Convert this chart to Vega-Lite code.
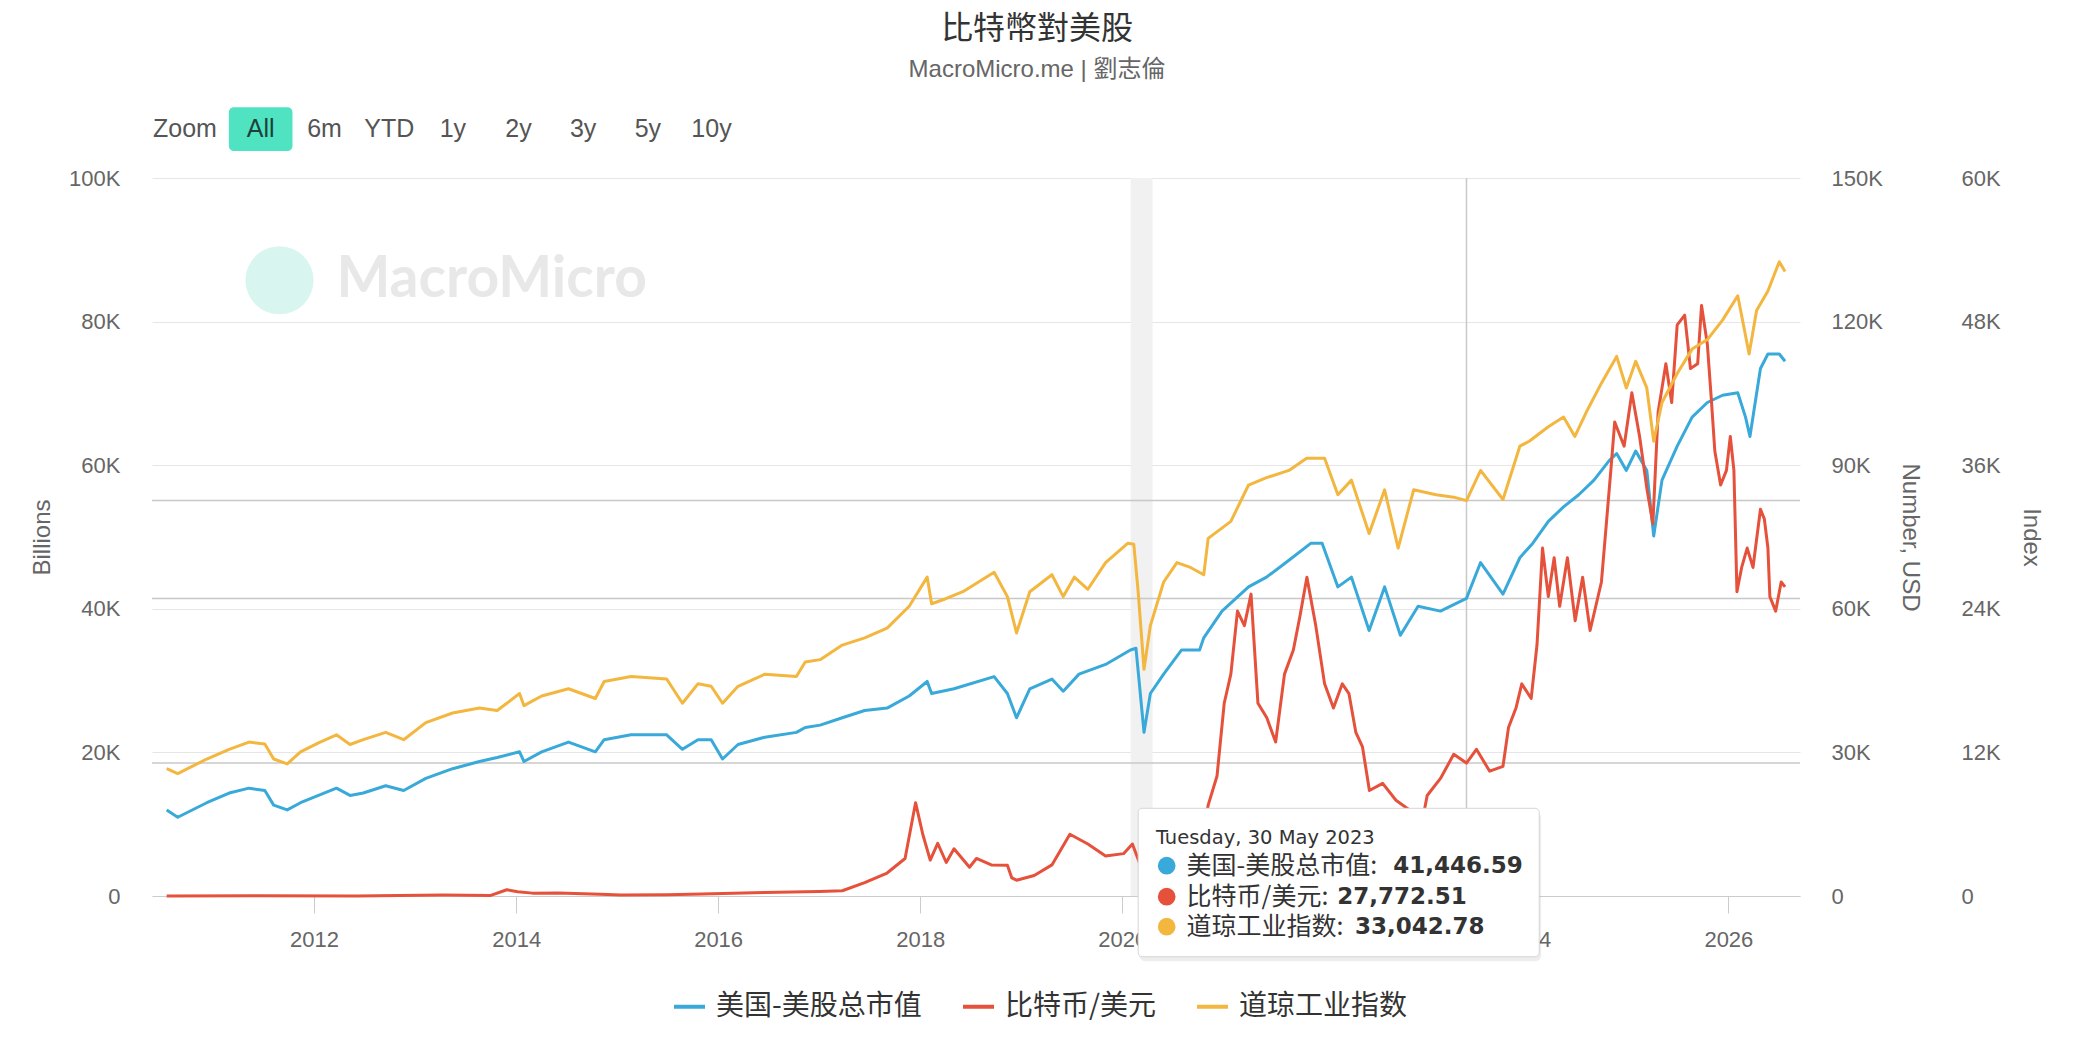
{
  "$schema": "https://vega.github.io/schema/vega-lite/v6.json",
  "width": 1648,
  "height": 718,
  "autosize": {"type": "none"},
  "padding": {"left": 152, "top": 178, "right": 274, "bottom": 168},
  "background": "#ffffff",
  "title": {
    "text": "比特幣對美股",
    "subtitle": "MacroMicro.me | 劉志倫",
    "anchor": "middle",
    "dx": 61,
    "offset": 24.5,
    "font": "Noto Sans CJK TC",
    "fontSize": 32,
    "fontWeight": "normal",
    "color": "#333333",
    "subtitleFont": "Liberation Sans, Noto Sans CJK TC",
    "subtitleFontSize": 24,
    "subtitleColor": "#666666",
    "subtitlePadding": 12
  },
  "datasets": {
    "mktcap": [
      {"date": "2010-07-17", "value": 11990},
      {"date": "2010-08-26", "value": 10970},
      {"date": "2010-12-09", "value": 12990},
      {"date": "2011-02-28", "value": 14340},
      {"date": "2011-05-11", "value": 15020},
      {"date": "2011-07-07", "value": 14690},
      {"date": "2011-08-08", "value": 12660},
      {"date": "2011-09-26", "value": 11990},
      {"date": "2011-11-13", "value": 12990},
      {"date": "2012-01-17", "value": 14010},
      {"date": "2012-03-22", "value": 15020},
      {"date": "2012-05-10", "value": 14010},
      {"date": "2012-06-27", "value": 14340},
      {"date": "2012-09-16", "value": 15360},
      {"date": "2012-11-20", "value": 14690},
      {"date": "2013-02-08", "value": 16380},
      {"date": "2013-05-16", "value": 17730},
      {"date": "2013-08-21", "value": 18730},
      {"date": "2013-10-24", "value": 19280},
      {"date": "2014-01-13", "value": 20080},
      {"date": "2014-01-29", "value": 18730},
      {"date": "2014-04-03", "value": 20080},
      {"date": "2014-07-09", "value": 21440},
      {"date": "2014-10-14", "value": 20080},
      {"date": "2014-11-15", "value": 21770},
      {"date": "2015-02-20", "value": 22450},
      {"date": "2015-06-29", "value": 22450},
      {"date": "2015-08-25", "value": 20430},
      {"date": "2015-10-20", "value": 21770},
      {"date": "2015-12-07", "value": 21770},
      {"date": "2016-01-17", "value": 19080},
      {"date": "2016-03-13", "value": 21100},
      {"date": "2016-06-18", "value": 22120},
      {"date": "2016-10-10", "value": 22790},
      {"date": "2016-11-11", "value": 23470},
      {"date": "2017-01-04", "value": 23800},
      {"date": "2017-03-25", "value": 24820},
      {"date": "2017-06-14", "value": 25830},
      {"date": "2017-09-03", "value": 26170},
      {"date": "2017-11-22", "value": 27860},
      {"date": "2018-01-26", "value": 29880},
      {"date": "2018-02-11", "value": 28200},
      {"date": "2018-05-03", "value": 28860},
      {"date": "2018-09-25", "value": 30560},
      {"date": "2018-11-12", "value": 28200},
      {"date": "2018-12-15", "value": 24820},
      {"date": "2019-02-01", "value": 28860},
      {"date": "2019-04-22", "value": 30220},
      {"date": "2019-06-02", "value": 28530},
      {"date": "2019-07-29", "value": 30900},
      {"date": "2019-11-02", "value": 32250},
      {"date": "2020-01-31", "value": 34270},
      {"date": "2020-02-20", "value": 34500},
      {"date": "2020-03-20", "value": 22790},
      {"date": "2020-04-12", "value": 28200},
      {"date": "2020-05-30", "value": 30900},
      {"date": "2020-08-03", "value": 34270},
      {"date": "2020-10-07", "value": 34270},
      {"date": "2020-10-22", "value": 35960},
      {"date": "2020-12-27", "value": 39680},
      {"date": "2021-04-02", "value": 43050},
      {"date": "2021-06-06", "value": 44410},
      {"date": "2021-08-26", "value": 46770},
      {"date": "2021-11-14", "value": 49140},
      {"date": "2021-12-24", "value": 49140},
      {"date": "2022-02-19", "value": 43050},
      {"date": "2022-04-09", "value": 44410},
      {"date": "2022-06-12", "value": 36980},
      {"date": "2022-08-07", "value": 43050},
      {"date": "2022-10-03", "value": 36310},
      {"date": "2022-12-06", "value": 40360},
      {"date": "2023-02-25", "value": 39680},
      {"date": "2023-05-30", "value": 41447},
      {"date": "2023-07-20", "value": 46440},
      {"date": "2023-10-09", "value": 42050},
      {"date": "2023-12-09", "value": 47110},
      {"date": "2024-01-25", "value": 49140},
      {"date": "2024-03-21", "value": 52180},
      {"date": "2024-05-15", "value": 54200},
      {"date": "2024-07-09", "value": 55890},
      {"date": "2024-09-02", "value": 57920},
      {"date": "2024-10-27", "value": 60630},
      {"date": "2024-11-23", "value": 61630},
      {"date": "2024-12-28", "value": 59270},
      {"date": "2025-01-31", "value": 61980},
      {"date": "2025-03-12", "value": 59270},
      {"date": "2025-04-06", "value": 50150},
      {"date": "2025-05-06", "value": 57920},
      {"date": "2025-06-30", "value": 62650},
      {"date": "2025-08-23", "value": 66700},
      {"date": "2025-10-17", "value": 68730},
      {"date": "2025-12-11", "value": 69740},
      {"date": "2026-02-04", "value": 70080},
      {"date": "2026-03-04", "value": 66700},
      {"date": "2026-03-20", "value": 64000},
      {"date": "2026-04-27", "value": 73460},
      {"date": "2026-05-24", "value": 75490},
      {"date": "2026-07-04", "value": 75490},
      {"date": "2026-07-25", "value": 74470}
    ],
    "btc": [
      {"date": "2010-07-17", "value": 0.1},
      {"date": "2011-06-08", "value": 30},
      {"date": "2012-06-01", "value": 6},
      {"date": "2013-04-10", "value": 200},
      {"date": "2013-10-01", "value": 130},
      {"date": "2013-11-28", "value": 1300},
      {"date": "2014-01-06", "value": 900},
      {"date": "2014-03-01", "value": 600},
      {"date": "2014-06-01", "value": 650},
      {"date": "2014-11-01", "value": 350},
      {"date": "2015-01-15", "value": 200},
      {"date": "2015-07-01", "value": 260},
      {"date": "2015-11-04", "value": 400},
      {"date": "2016-06-18", "value": 750},
      {"date": "2016-12-31", "value": 960},
      {"date": "2017-03-25", "value": 1100},
      {"date": "2017-06-14", "value": 2780},
      {"date": "2017-09-03", "value": 4800},
      {"date": "2017-11-07", "value": 7840},
      {"date": "2017-12-15", "value": 19490},
      {"date": "2018-01-10", "value": 12900},
      {"date": "2018-02-06", "value": 7500},
      {"date": "2018-03-05", "value": 11000},
      {"date": "2018-04-05", "value": 7000},
      {"date": "2018-05-03", "value": 9870},
      {"date": "2018-06-28", "value": 6000},
      {"date": "2018-07-23", "value": 7840},
      {"date": "2018-09-15", "value": 6500},
      {"date": "2018-11-12", "value": 6400},
      {"date": "2018-11-28", "value": 3780},
      {"date": "2018-12-15", "value": 3300},
      {"date": "2019-02-17", "value": 4290},
      {"date": "2019-04-22", "value": 6500},
      {"date": "2019-06-26", "value": 12900},
      {"date": "2019-08-30", "value": 10870},
      {"date": "2019-11-02", "value": 8340},
      {"date": "2020-01-06", "value": 8850},
      {"date": "2020-02-07", "value": 10870},
      {"date": "2020-03-16", "value": 5000},
      {"date": "2020-04-30", "value": 8800},
      {"date": "2020-06-15", "value": 9500},
      {"date": "2020-08-01", "value": 11700},
      {"date": "2020-09-15", "value": 10700},
      {"date": "2020-10-22", "value": 13000},
      {"date": "2020-11-07", "value": 18990},
      {"date": "2020-12-09", "value": 25070},
      {"date": "2021-01-04", "value": 40260},
      {"date": "2021-01-28", "value": 46350},
      {"date": "2021-02-21", "value": 59520},
      {"date": "2021-03-18", "value": 56490},
      {"date": "2021-04-11", "value": 63070},
      {"date": "2021-05-06", "value": 40260},
      {"date": "2021-06-07", "value": 37230},
      {"date": "2021-07-09", "value": 32160},
      {"date": "2021-08-10", "value": 46350},
      {"date": "2021-09-11", "value": 51410},
      {"date": "2021-10-05", "value": 58510},
      {"date": "2021-10-30", "value": 66610},
      {"date": "2021-12-01", "value": 56490},
      {"date": "2022-01-02", "value": 44320},
      {"date": "2022-02-03", "value": 39260},
      {"date": "2022-03-07", "value": 44320},
      {"date": "2022-03-31", "value": 42290},
      {"date": "2022-04-25", "value": 34180},
      {"date": "2022-05-19", "value": 31150},
      {"date": "2022-06-13", "value": 22030},
      {"date": "2022-07-31", "value": 23540},
      {"date": "2022-09-17", "value": 20000},
      {"date": "2022-11-05", "value": 17980},
      {"date": "2022-11-25", "value": 16500},
      {"date": "2022-12-25", "value": 16800},
      {"date": "2023-01-08", "value": 21000},
      {"date": "2023-02-25", "value": 24560},
      {"date": "2023-04-14", "value": 29620},
      {"date": "2023-05-30", "value": 27773},
      {"date": "2023-07-05", "value": 30650},
      {"date": "2023-08-22", "value": 26070},
      {"date": "2023-10-09", "value": 27090},
      {"date": "2023-10-29", "value": 35200},
      {"date": "2023-11-25", "value": 39260},
      {"date": "2023-12-16", "value": 44320},
      {"date": "2024-01-19", "value": 41270},
      {"date": "2024-02-09", "value": 52430},
      {"date": "2024-02-29", "value": 72690},
      {"date": "2024-03-21", "value": 62550},
      {"date": "2024-04-11", "value": 70660},
      {"date": "2024-05-01", "value": 60540},
      {"date": "2024-05-29", "value": 70660},
      {"date": "2024-06-26", "value": 57500},
      {"date": "2024-07-23", "value": 66610},
      {"date": "2024-08-19", "value": 55470},
      {"date": "2024-09-29", "value": 65600},
      {"date": "2024-11-02", "value": 88910},
      {"date": "2024-11-16", "value": 99040},
      {"date": "2024-12-20", "value": 93970},
      {"date": "2025-01-17", "value": 105120},
      {"date": "2025-02-14", "value": 96000},
      {"date": "2025-03-13", "value": 84860},
      {"date": "2025-04-03", "value": 77770},
      {"date": "2025-04-22", "value": 101060},
      {"date": "2025-05-20", "value": 111200},
      {"date": "2025-06-10", "value": 103090},
      {"date": "2025-06-30", "value": 119310},
      {"date": "2025-07-27", "value": 121340},
      {"date": "2025-08-17", "value": 110190},
      {"date": "2025-09-12", "value": 111200},
      {"date": "2025-09-26", "value": 123370},
      {"date": "2025-10-17", "value": 115260},
      {"date": "2025-10-31", "value": 104110},
      {"date": "2025-11-13", "value": 92970},
      {"date": "2025-12-04", "value": 85860},
      {"date": "2025-12-25", "value": 88910},
      {"date": "2026-01-08", "value": 96000},
      {"date": "2026-01-21", "value": 88910},
      {"date": "2026-02-01", "value": 63570},
      {"date": "2026-02-18", "value": 68640},
      {"date": "2026-03-10", "value": 72690},
      {"date": "2026-03-31", "value": 68640},
      {"date": "2026-04-27", "value": 80810},
      {"date": "2026-05-11", "value": 78780},
      {"date": "2026-05-24", "value": 72690},
      {"date": "2026-05-31", "value": 62550},
      {"date": "2026-06-21", "value": 59520},
      {"date": "2026-07-11", "value": 65600},
      {"date": "2026-07-25", "value": 64580}
    ],
    "dji": [
      {"date": "2010-07-17", "value": 10638},
      {"date": "2010-08-26", "value": 10230},
      {"date": "2010-12-09", "value": 11448},
      {"date": "2011-02-28", "value": 12258},
      {"date": "2011-05-11", "value": 12864},
      {"date": "2011-07-07", "value": 12700},
      {"date": "2011-08-08", "value": 11448},
      {"date": "2011-09-26", "value": 11040},
      {"date": "2011-11-13", "value": 12048},
      {"date": "2012-01-17", "value": 12800},
      {"date": "2012-03-22", "value": 13470},
      {"date": "2012-05-10", "value": 12660},
      {"date": "2012-06-27", "value": 13062},
      {"date": "2012-09-16", "value": 13674},
      {"date": "2012-11-20", "value": 13062},
      {"date": "2013-02-08", "value": 14484},
      {"date": "2013-05-16", "value": 15294},
      {"date": "2013-08-21", "value": 15702},
      {"date": "2013-10-24", "value": 15498},
      {"date": "2014-01-13", "value": 16920},
      {"date": "2014-01-29", "value": 15906},
      {"date": "2014-04-03", "value": 16716},
      {"date": "2014-07-09", "value": 17316},
      {"date": "2014-10-14", "value": 16506},
      {"date": "2014-11-15", "value": 17928},
      {"date": "2015-02-20", "value": 18336},
      {"date": "2015-06-29", "value": 18132},
      {"date": "2015-08-25", "value": 16104},
      {"date": "2015-10-20", "value": 17730},
      {"date": "2015-12-07", "value": 17526},
      {"date": "2016-01-17", "value": 16104},
      {"date": "2016-03-13", "value": 17526},
      {"date": "2016-06-18", "value": 18540},
      {"date": "2016-10-10", "value": 18336},
      {"date": "2016-11-11", "value": 19554},
      {"date": "2017-01-04", "value": 19752},
      {"date": "2017-03-25", "value": 20970},
      {"date": "2017-06-14", "value": 21576},
      {"date": "2017-09-03", "value": 22386},
      {"date": "2017-11-22", "value": 24216},
      {"date": "2018-01-26", "value": 26646},
      {"date": "2018-02-11", "value": 24420},
      {"date": "2018-04-01", "value": 24822},
      {"date": "2018-06-04", "value": 25428},
      {"date": "2018-09-25", "value": 27054},
      {"date": "2018-11-12", "value": 25020},
      {"date": "2018-12-15", "value": 21984},
      {"date": "2019-02-01", "value": 25428},
      {"date": "2019-04-22", "value": 26850},
      {"date": "2019-06-02", "value": 25020},
      {"date": "2019-07-12", "value": 26646},
      {"date": "2019-08-30", "value": 25632},
      {"date": "2019-11-02", "value": 27864},
      {"date": "2020-01-22", "value": 29484},
      {"date": "2020-02-12", "value": 29400},
      {"date": "2020-02-28", "value": 25400},
      {"date": "2020-03-20", "value": 18942},
      {"date": "2020-04-12", "value": 22596},
      {"date": "2020-05-30", "value": 26238},
      {"date": "2020-07-17", "value": 27864},
      {"date": "2020-09-04", "value": 27456},
      {"date": "2020-10-22", "value": 26850},
      {"date": "2020-11-07", "value": 29886},
      {"date": "2021-01-28", "value": 31308},
      {"date": "2021-04-02", "value": 34344},
      {"date": "2021-06-06", "value": 34956},
      {"date": "2021-08-26", "value": 35562},
      {"date": "2021-10-29", "value": 36576},
      {"date": "2022-01-02", "value": 36576},
      {"date": "2022-02-19", "value": 33534},
      {"date": "2022-04-09", "value": 34752},
      {"date": "2022-06-12", "value": 30294},
      {"date": "2022-08-07", "value": 33942},
      {"date": "2022-09-25", "value": 29076},
      {"date": "2022-11-20", "value": 33942},
      {"date": "2023-02-09", "value": 33534},
      {"date": "2023-04-14", "value": 33330},
      {"date": "2023-05-30", "value": 33043},
      {"date": "2023-07-20", "value": 35562},
      {"date": "2023-10-09", "value": 33132},
      {"date": "2023-12-09", "value": 37590},
      {"date": "2024-01-12", "value": 37998},
      {"date": "2024-03-21", "value": 39210},
      {"date": "2024-05-15", "value": 40020},
      {"date": "2024-06-25", "value": 38400},
      {"date": "2024-08-05", "value": 40422},
      {"date": "2024-09-29", "value": 42858},
      {"date": "2024-11-23", "value": 45090},
      {"date": "2024-12-28", "value": 42456},
      {"date": "2025-01-31", "value": 44682},
      {"date": "2025-03-12", "value": 42456},
      {"date": "2025-04-06", "value": 37998},
      {"date": "2025-05-06", "value": 41238},
      {"date": "2025-06-30", "value": 43668},
      {"date": "2025-08-23", "value": 45702},
      {"date": "2025-10-17", "value": 46500},
      {"date": "2025-12-11", "value": 48126},
      {"date": "2026-02-04", "value": 50160},
      {"date": "2026-03-17", "value": 45294},
      {"date": "2026-04-13", "value": 48936},
      {"date": "2026-05-24", "value": 50562},
      {"date": "2026-07-04", "value": 52992},
      {"date": "2026-07-25", "value": 52182}
    ],
    "tip": [
      {"series": "美国-美股总市值", "label": "美国-美股总市值:", "value": "41,446.59", "level": 4220, "vat": "2022-09-07"},
      {"series": "比特币/美元", "label": "比特币/美元:", "value": "27,772.51", "level": -97, "vat": "2022-02-17"},
      {"series": "道琼工业指数", "label": "道琼工业指数:", "value": "33,042.78", "level": -4276, "vat": "2022-04-22"}
    ],
    "buttons": [
      {"label": "Zoom", "at": "2010-09-21"},
      {"label": "All", "at": "2011-06-22"},
      {"label": "6m", "at": "2012-02-08"},
      {"label": "YTD", "at": "2012-09-29"},
      {"label": "1y", "at": "2013-05-17"},
      {"label": "2y", "at": "2014-01-09"},
      {"label": "3y", "at": "2014-08-31"},
      {"label": "5y", "at": "2015-04-22"},
      {"label": "10y", "at": "2015-12-08"}
    ]
  },
  "layer": [
    {
      "data": {"values": [{}]},
      "mark": {"type": "rect", "color": "#f1f1f1"},
      "encoding": {
        "x": {"datum": {"year": 2020, "month": 2, "date": 1}, "type": "temporal", "axis": {"title": null}},
        "x2": {"datum": {"year": 2020, "month": 4, "date": 20}}
      }
    },
    {
      "data": {"values": [{}]},
      "mark": {"type": "circle", "color": "#d8f6ef", "opacity": 1, "size": 4650},
      "encoding": {
        "x": {"datum": {"year": 2011, "month": 8, "date": 29}, "type": "temporal", "axis": {"title": null}},
        "y": {"datum": 85756, "type": "quantitative", "scale": {"domain": [0, 100000], "nice": false}, "axis": null}
      }
    },
    {
      "data": {"values": [{}]},
      "mark": {"type": "text", "text": "MacroMicro", "align": "left", "baseline": "middle", "font": "Lato", "fontWeight": "bold", "fontSize": 57, "color": "#e8e8e8"},
      "encoding": {
        "x": {"datum": {"year": 2012, "month": 3, "date": 22}, "type": "temporal", "axis": {"title": null}},
        "y": {"datum": 85784, "type": "quantitative", "scale": {"domain": [0, 100000], "nice": false}, "axis": null}
      }
    },
    {
      "data": {"values": [{}]},
      "mark": {"type": "rule", "color": "#c8c8c8", "strokeWidth": 1.5},
      "encoding": {
        "y": {"datum": 41446.59, "type": "quantitative", "scale": {"domain": [0, 100000], "nice": false}, "axis": null}
      }
    },
    {
      "data": {"values": [{}]},
      "mark": {"type": "rule", "color": "#c8c8c8", "strokeWidth": 1.5},
      "encoding": {
        "y": {"datum": 27772.51, "type": "quantitative", "scale": {"domain": [0, 150000], "nice": false}, "axis": null}
      }
    },
    {
      "data": {"values": [{}]},
      "mark": {"type": "rule", "color": "#c8c8c8", "strokeWidth": 1.5},
      "encoding": {
        "y": {"datum": 33042.78, "type": "quantitative", "scale": {"domain": [0, 60000], "nice": false}, "axis": null}
      }
    },
    {
      "data": {"values": [{}]},
      "mark": {"type": "rule", "color": "#c8c8c8", "strokeWidth": 1.5},
      "encoding": {
        "x": {"datum": {"year": 2023, "month": 5, "date": 30}, "type": "temporal", "axis": {"title": null}}
      }
    },
    {
      "data": {"name": "mktcap"},
      "mark": {"type": "line", "strokeWidth": 3, "strokeJoin": "round"},
      "encoding": {
        "x": {
          "field": "date",
          "type": "temporal",
          "scale": {"domain": [{"year": 2010, "month": 5, "date": 25}, {"year": 2026, "month": 9, "date": 17}], "nice": false},
          "axis": {
            "title": null,
            "format": "%Y",
            "values": [{"year": 2012}, {"year": 2014}, {"year": 2016}, {"year": 2018}, {"year": 2020}, {"year": 2022}, {"year": 2024}, {"year": 2026}]
          }
        },
        "y": {
          "field": "value",
          "type": "quantitative",
          "scale": {"domain": [0, 100000], "nice": false},
          "axis": {
            "orient": "left",
            "title": "Billions",
            "grid": true,
            "values": [0, 20000, 40000, 60000, 80000, 100000],
            "labelExpr": "datum.value == 0 ? '0' : datum.value / 1000 + 'K'",
            "labelPadding": 32,
            "titlePadding": 14
          }
        },
        "color": {
          "datum": "美国-美股总市值",
          "type": "nominal",
          "scale": {
            "domain": ["美国-美股总市值", "比特币/美元", "道琼工业指数"],
            "range": ["#38a9d9", "#e5513b", "#f3b63f"]
          },
          "legend": {
            "orient": "none",
            "legendX": 520,
            "legendY": 811,
            "direction": "horizontal",
            "title": null,
            "symbolType": "stroke",
            "symbolSize": 961,
            "symbolStrokeWidth": 4,
            "labelFont": "Noto Sans CJK SC",
            "labelFontSize": 28,
            "labelColor": "#333333",
            "labelLimit": 400,
            "labelOffset": 9,
            "columnPadding": 33,
            "padding": 0
          }
        }
      }
    },
    {
      "data": {"name": "btc"},
      "mark": {"type": "line", "strokeWidth": 3, "strokeJoin": "round"},
      "encoding": {
        "x": {"field": "date", "type": "temporal", "axis": {"title": null}},
        "y": {
          "field": "value",
          "type": "quantitative",
          "scale": {"domain": [0, 150000], "nice": false},
          "axis": {
            "orient": "right",
            "title": "Number, USD",
            "grid": false,
            "values": [0, 30000, 60000, 90000, 120000, 150000],
            "labelExpr": "datum.value == 0 ? '0' : datum.value / 1000 + 'K'",
            "labelPadding": 31,
            "titlePadding": 15
          }
        },
        "color": {"datum": "比特币/美元", "type": "nominal"}
      }
    },
    {
      "data": {"name": "dji"},
      "mark": {"type": "line", "strokeWidth": 3, "strokeJoin": "round"},
      "encoding": {
        "x": {"field": "date", "type": "temporal", "axis": {"title": null}},
        "y": {
          "field": "value",
          "type": "quantitative",
          "scale": {"domain": [0, 60000], "nice": false},
          "axis": {
            "orient": "right",
            "offset": 130,
            "title": "Index",
            "grid": false,
            "values": [0, 12000, 24000, 36000, 48000, 60000],
            "labelExpr": "datum.value == 0 ? '0' : datum.value / 1000 + 'K'",
            "labelPadding": 31,
            "titlePadding": 18
          }
        },
        "color": {"datum": "道琼工业指数", "type": "nominal"}
      }
    },
    {
      "data": {"values": [{}]},
      "mark": {"type": "rect", "fill": "#000000", "opacity": 0.07, "cornerRadius": 6},
      "encoding": {
        "x": {"datum": {"year": 2020, "month": 3, "date": 3}, "type": "temporal", "axis": {"title": null}},
        "x2": {"datum": {"year": 2024, "month": 2, "date": 24}},
        "y": {"datum": 11700, "type": "quantitative", "scale": {"domain": [0, 100000], "nice": false}, "axis": null},
        "y2": {"datum": -9100}
      }
    },
    {
      "data": {"values": [{}]},
      "mark": {"type": "rect", "fill": "#ffffff", "stroke": "#d6d6d6", "strokeWidth": 1, "cornerRadius": 4},
      "encoding": {
        "x": {"datum": {"year": 2020, "month": 2, "date": 28}, "type": "temporal", "axis": {"title": null}},
        "x2": {"datum": {"year": 2024, "month": 2, "date": 17}},
        "y": {"datum": 12214, "type": "quantitative", "scale": {"domain": [0, 100000], "nice": false}, "axis": null},
        "y2": {"datum": -8454}
      }
    },
    {
      "data": {"values": [{}]},
      "mark": {"type": "text", "text": "Tuesday, 30 May 2023", "align": "left", "baseline": "middle", "font": "DejaVu Sans", "fontSize": 19.5, "color": "#333333"},
      "encoding": {
        "x": {"datum": {"year": 2020, "month": 5, "date": 2}, "type": "temporal", "axis": {"title": null}},
        "y": {"datum": 8036, "type": "quantitative", "scale": {"domain": [0, 100000], "nice": false}, "axis": null}
      }
    },
    {
      "data": {"name": "tip"},
      "mark": {"type": "circle", "size": 314, "opacity": 1},
      "encoding": {
        "x": {"datum": {"year": 2020, "month": 6, "date": 10}, "type": "temporal", "axis": {"title": null}},
        "y": {"field": "level", "type": "quantitative", "scale": {"domain": [0, 100000], "nice": false}, "axis": null},
        "color": {"field": "series", "type": "nominal", "legend": null}
      }
    },
    {
      "data": {"name": "tip"},
      "mark": {"type": "text", "align": "left", "baseline": "middle", "font": "Noto Sans CJK SC", "fontSize": 25, "color": "#333333"},
      "encoding": {
        "x": {"datum": {"year": 2020, "month": 8, "date": 21}, "type": "temporal", "axis": {"title": null}},
        "y": {"field": "level", "type": "quantitative", "scale": {"domain": [0, 100000], "nice": false}, "axis": null},
        "text": {"field": "label"}
      }
    },
    {
      "data": {"name": "tip"},
      "mark": {"type": "text", "align": "left", "baseline": "middle", "font": "DejaVu Sans", "fontWeight": "bold", "fontSize": 23, "color": "#333333"},
      "encoding": {
        "x": {"field": "vat", "type": "temporal", "axis": {"title": null}},
        "y": {"field": "level", "type": "quantitative", "scale": {"domain": [0, 100000], "nice": false}, "axis": null},
        "text": {"field": "value"}
      }
    },
    {
      "data": {"values": [{}]},
      "mark": {"type": "rect", "fill": "#50e3c2", "cornerRadius": 5},
      "encoding": {
        "x": {"datum": {"year": 2011, "month": 2, "date": 27}, "type": "temporal", "axis": {"title": null}},
        "x2": {"datum": {"year": 2011, "month": 10, "date": 15}},
        "y": {"datum": 109854, "type": "quantitative", "scale": {"domain": [0, 100000], "nice": false}, "axis": null},
        "y2": {"datum": 103763}
      }
    },
    {
      "data": {"name": "buttons"},
      "mark": {"type": "text", "align": "center", "baseline": "middle", "font": "Liberation Sans", "fontSize": 25},
      "encoding": {
        "x": {"field": "at", "type": "temporal", "axis": {"title": null}},
        "y": {"datum": 106788, "type": "quantitative", "scale": {"domain": [0, 100000], "nice": false}, "axis": null},
        "text": {"field": "label"},
        "color": {"condition": {"test": "datum.label === 'All'", "value": "#1f3f39"}, "value": "#555555"}
      }
    }
  ],
  "resolve": {"scale": {"y": "independent"}},
  "config": {
    "font": "Liberation Sans, Noto Sans CJK SC",
    "view": {"stroke": null},
    "axis": {
      "labelFont": "Liberation Sans",
      "labelFontSize": 22,
      "labelColor": "#666666",
      "titleFont": "Liberation Sans",
      "titleFontSize": 24,
      "titleFontWeight": "normal",
      "titleColor": "#666666",
      "domain": false,
      "ticks": false,
      "gridColor": "#e6e6e6",
      "gridWidth": 1
    },
    "axisX": {
      "domain": true,
      "domainColor": "#cccccc",
      "ticks": true,
      "tickColor": "#cccccc",
      "tickSize": 17,
      "tickWidth": 1,
      "labelPadding": 16,
      "grid": false
    }
  }
}
